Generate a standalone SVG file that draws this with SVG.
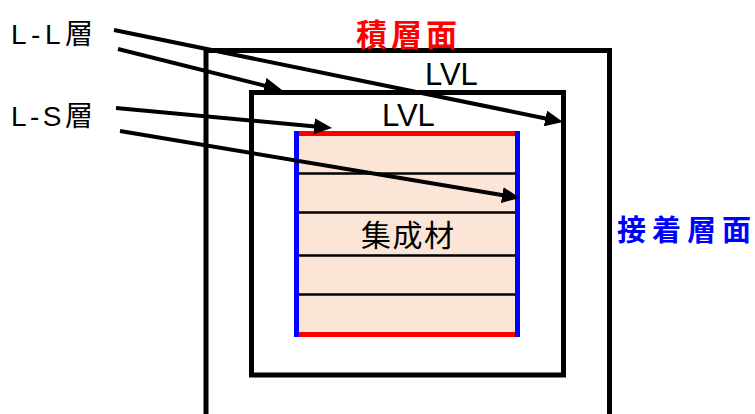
<svg xmlns="http://www.w3.org/2000/svg" width="755" height="414" viewBox="0 0 755 414">
<style>
.frame{fill:none;stroke:#000;stroke-width:5}
.lam{stroke:#000;stroke-width:2.5}
.red{stroke:#FF0000;stroke-width:5}
.blue{stroke:#0000FF;stroke-width:5}
.lbl{font-family:"Liberation Sans","Noto Sans CJK JP",sans-serif;font-size:28px;fill:#000}
.jp{font-family:"Noto Sans CJK JP",sans-serif;fill:#000}
.arrow{fill:none;stroke:#000;stroke-width:4;marker-end:url(#ah)}
</style>
<defs>
<marker id="ah" viewBox="0 0 18 16" refX="4" refY="8" markerWidth="18" markerHeight="16" markerUnits="userSpaceOnUse" orient="auto">
<path d="M0,0 L18,8 L0,16 z" fill="#000"/>
</marker>
</defs>
<rect width="755" height="414" fill="#fff"/>
<g id="outer-lvl">
<rect class="frame" x="206" y="50.5" width="403.5" height="400"/>
<text class="lbl" x="425" y="85" style="font-size:31px">LVL</text>
</g>
<g id="inner-lvl">
<rect class="frame" x="251.5" y="92.5" width="312" height="282.5"/>
<text class="lbl" x="382" y="126" style="font-size:31px">LVL</text>
</g>
<g id="glulam">
<rect x="299" y="131" width="216.5" height="206" fill="#FBE5D6"/>
<line class="lam" x1="299" y1="173.5" x2="515" y2="173.5"/>
<line class="lam" x1="299" y1="212.5" x2="515" y2="212.5"/>
<line class="lam" x1="299" y1="255.5" x2="515" y2="255.5"/>
<line class="lam" x1="299" y1="294.5" x2="515" y2="294.5"/>
<line class="red" x1="299" y1="133.5" x2="516" y2="133.5"/>
<line class="red" x1="299" y1="334.5" x2="516" y2="334.5"/>
<line class="blue" x1="296.5" y1="131" x2="296.5" y2="337"/>
<line class="blue" x1="517.5" y1="131" x2="517.5" y2="337"/>
<text class="jp" x="361" y="246" font-size="30" letter-spacing="1.5">集成材</text>
</g>
<g id="label-ll">
<text class="lbl" x="11" y="44" textLength="82" lengthAdjust="spacing">L-L層</text>
</g>
<g id="label-ls">
<text class="lbl" x="11" y="126" textLength="82" lengthAdjust="spacing">L-S層</text>
</g>
<g id="label-sekisomen">
<text class="jp" x="356 391 426" y="46" font-size="31" font-weight="bold" style="fill:#FF0000">積層面</text>
</g>
<g id="label-setchakusomen">
<text class="jp" x="617 652 687 722" y="241" font-size="29" font-weight="bold" style="fill:#0000FF">接着層面</text>
</g>
<g id="connectors">
<line class="arrow" x1="114" y1="30" x2="549.3" y2="119.2"/>
<line class="arrow" x1="118" y1="49" x2="268.4" y2="86.6"/>
<line class="arrow" x1="116" y1="108" x2="318.1" y2="126.7"/>
<line class="arrow" x1="120" y1="131" x2="506.2" y2="195.7"/>
</g>
</svg>
